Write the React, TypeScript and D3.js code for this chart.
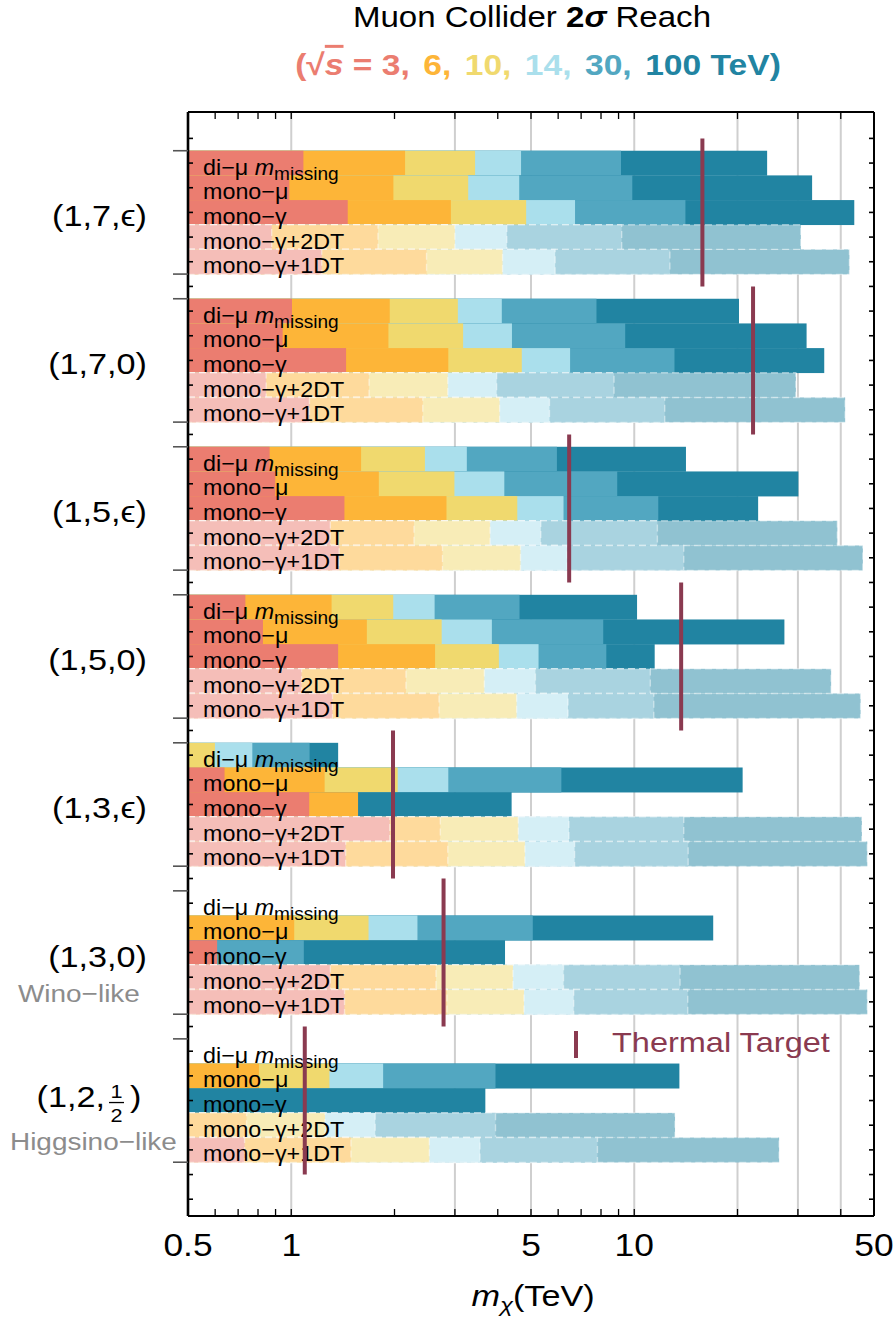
import React from 'react';
import * as d3 from 'd3';

// collider energies (TeV) and their colours
const energies = ['3', '6', '10', '14', '30', '100'];
const energyColors = ['#EB7D70', '#FDB538', '#F0D96E', '#AADFEC', '#52A7C1', '#2184A2'];

// search channels, in row order inside each model block
const channels = ['di-mu', 'mono-mu', 'mono-gamma', 'mono-gamma+2DT', 'mono-gamma+1DT'];
const isDT = [false, false, false, true, true];

// (n, Y, ...) multiplets
const models = ['(1,7,\u03F5)', '(1,7,0)', '(1,5,\u03F5)', '(1,5,0)', '(1,3,\u03F5)', '(1,3,0)', '(1,2,1/2)'];
const thermalTarget = [15.8, 22.2, 6.46, 13.7, 1.98, 2.78, 1.095];

// 2 sigma mass reach (TeV) per channel, one value per energy (null = no reach)
const reach17eps = [
  [1.085, 2.147, 3.435, 4.677, 9.15, 24.4],
  [0.987, 1.985, 3.28, 4.62, 9.87, 33.0],
  [1.461, 2.92, 4.84, 6.72, 14.1, 43.8],
  [0.877, 1.79, 3.0, 4.25, 9.19, 30.6],
  [1.227, 2.48, 4.13, 5.88, 12.7, 42.4],
];
const reach170 = [
  [1.005, 1.937, 3.06, 4.11, 7.76, 20.2],
  [0.944, 1.92, 3.17, 4.4, 9.41, 31.8],
  [1.445, 2.87, 4.7, 6.5, 13.1, 35.8],
  [0.845, 1.686, 2.86, 3.97, 8.73, 29.6],
  [1.13, 2.418, 4.05, 5.66, 12.27, 41.2],
];
const reach15eps = [
  [0.865, 1.598, 2.453, 3.25, 5.95, 14.15],
  [0.898, 1.8, 2.99, 4.18, 8.92, 30.1],
  [1.429, 2.835, 4.56, 6.22, 11.75, 22.97],
  [1.3, 2.28, 3.8, 5.34, 11.68, 39.1],
  [1.379, 2.76, 4.66, 6.37, 13.94, 46.4],
];
const reach150 = [
  [0.735, 1.311, 1.983, 2.618, 4.63, 10.19],
  [0.827, 1.661, 2.745, 3.845, 8.12, 27.4],
  [1.37, 2.626, 4.03, 5.26, 8.29, 11.47],
  [1.072, 2.16, 3.656, 5.15, 11.14, 37.5],
  [1.319, 2.697, 4.54, 6.41, 11.4, 45.7],
];
const reach13eps = [
  [null, null, 0.599, 0.77, 1.131, 1.37],
  [0.639, 1.251, 2.043, 2.87, 6.13, 20.7],
  [1.128, 1.566, null, null, null, 4.39],
  [1.937, 2.72, 4.59, 6.45, 13.94, 46.1],
  [1.441, 2.86, 4.8, 6.7, 14.36, 47.8],
];
const reach130 = [
  [null, null, null, null, null, null],
  [null, 1.02, 1.68, 2.333, 5.06, 16.99],
  [0.608, null, null, null, 1.088, 4.2],
  [1.3, 2.642, 4.43, 6.22, 13.6, 45.4],
  [1.43, 2.844, 4.77, 6.66, 14.32, 47.8],
];
const reach12half = [
  [null, null, null, null, null, null],
  [null, 0.805, 1.292, 1.853, 3.94, 13.54],
  [null, null, null, null, null, 3.68],
  [null, 0.741, 1.254, 1.757, 3.94, 13.15],
  [0.731, 1.493, 2.527, 3.55, 7.81, 26.45],
];
const reachByModel = [reach17eps, reach170, reach15eps, reach150, reach13eps, reach130, reach12half];

// x axis
const xTickLabels = [0.5, 1, 5, 10, 50];
const xMinorTicks = [0.6, 0.7, 0.8, 0.9, 2, 3, 4, 6, 7, 8, 9, 20, 30, 40];
const xGridLines = [1, 3, 5, 10, 20, 30, 40];

const W = 895;
const H = 1318;
const FONT = '"Liberation Sans", Arial, Helvetica, sans-serif';
const SX = 1.14; // the original text is a bit wide
const THERMAL = '#8A3A50';

const Txt = ({ x, y, anchor = 'start', sx = SX, children, ...rest }: any) => (
  <g transform={`translate(${x},${y}) scale(${sx},1)`}>
    <text x={0} y={0} textAnchor={anchor} fontFamily={FONT} {...rest}>
      {children}
    </text>
  </g>
);

const App: React.FC = () => {
  const left = 188, right = 874, top = 112, bottom = 1216;

  const x = d3.scaleLog().domain([0.5, 50]).range([left, right]);
  // one unit per row; each model block is 5 rows + 1 empty row
  const y = d3.scaleLinear().domain([-2.07, 42.68]).range([top, bottom]);
  const rowU = (g: number, r: number) => g * 6 + r;
  const light = (c: string) => d3.interpolateRgb('#ffffff', c)(0.5);

  const bars: React.ReactNode[] = [];
  reachByModel.forEach((rows, g) => {
    rows.forEach((vals, r) => {
      const u = rowU(g, r);
      const y0 = y(u - 0.5);
      const h = y(u + 0.5) - y0;
      // widest (highest energy) first so the lower energies sit on top
      for (let e = energies.length - 1; e >= 0; e--) {
        const v = vals[e];
        if (v == null) continue;
        const fill = isDT[r] ? light(energyColors[e]) : energyColors[e];
        bars.push(
          <rect key={`b${g}-${r}-${e}`} x={left} y={y0} width={x(v) - left} height={h + 0.3}
            fill={fill}
            stroke={isDT[r] ? '#ffffff' : 'none'} strokeOpacity={0.45}
            strokeWidth={1.4} strokeDasharray="7 4" />
        );
      }
    });
  });

  const intTicks = d3.range(-1, 43);
  const groupEdges = models.flatMap((_, g) => [rowU(g, 0) - 0.5, rowU(g, 4) + 0.5]);

  const rowLabel = (r: number) => {
    if (r === 0) {
      return (
        <>
          {'di\u2212\u03BC '}
          <tspan fontStyle="italic">m</tspan>
          <tspan fontSize={18} dy={5}>missing</tspan>
        </>
      );
    }
    if (r === 1) return 'mono\u2212\u03BC';
    if (r === 2) return 'mono\u2212\u03B3';
    if (r === 3) return 'mono\u2212\u03B3+2DT';
    return 'mono\u2212\u03B3+1DT';
  };

  const sub = [
    `(\u221A`, 's', ` = ${energies[0]},`,
  ];

  return (
    <svg width={W} height={H} viewBox={`0 0 ${W} ${H}`}
      style={{ position: 'absolute', left: 0, top: 0, background: '#fff' }}>
      {/* title */}
      <Txt x={532} y={27} anchor="middle" fontSize={29} fill="#000">
        {'Muon Collider '}
        <tspan fontWeight="bold">2</tspan>
        <tspan fontWeight="bold" fontStyle="italic">{'\u03C3'}</tspan>
        {' Reach'}
      </Txt>
      <Txt x={538} y={75} anchor="middle" fontSize={30} fontWeight="bold" sx={1.12}>
        <tspan fill={energyColors[0]}>{sub[0]}</tspan>
        <tspan fill={energyColors[0]} fontStyle="italic" textDecoration="overline">{sub[1]}</tspan>
        <tspan fill={energyColors[0]}>{sub[2]}</tspan>
        {energies.slice(1, 5).map((e, i) => (
          <tspan key={e} fill={energyColors[i + 1]} dx={12}>{`${e},`}</tspan>
        ))}
        <tspan fill={energyColors[5]} dx={12}>{`${energies[5]} TeV)`}</tspan>
      </Txt>

      {/* grid */}
      {xGridLines.map(v => (
        <line key={`gl${v}`} x1={x(v)} x2={x(v)} y1={top} y2={bottom} stroke="#cfcfcf" strokeWidth={2} />
      ))}

      {bars}

      {/* channel labels */}
      {models.map((_, g) => channels.map((c, r) => (
        <Txt key={`rl${g}-${r}`} x={203} y={y(rowU(g, r)) + 11.5} fontSize={22} fill="#000" sx={1.06}>
          {rowLabel(r)}
        </Txt>
      )))}

      {/* model labels */}
      {models.map((m, g) => {
        const cy = y(rowU(g, 2));
        if (m === '(1,2,1/2)') {
          return (
            <g key={`ml${g}`}>
              <Txt x={105} y={cy + 6} anchor="end" fontSize={29} sx={1.18}>{'(1,2,'}</Txt>
              <Txt x={116.5} y={cy - 3} anchor="middle" fontSize={19}>1</Txt>
              <line x1={109} x2={124} y1={cy + 2} y2={cy + 2} stroke="#000" strokeWidth={1.3} />
              <Txt x={116.5} y={cy + 21} anchor="middle" fontSize={19}>2</Txt>
              <Txt x={130} y={cy + 6} fontSize={29} sx={1.18}>)</Txt>
            </g>
          );
        }
        return <Txt key={`ml${g}`} x={147} y={cy + 14} anchor="end" fontSize={29} sx={1.18}>{m}</Txt>;
      })}
      <Txt x={18} y={y(rowU(5, 2)) + 49} fontSize={24.5} fill="#8c8c8c">{'Wino\u2212like'}</Txt>
      <Txt x={10} y={y(rowU(6, 2)) + 49} fontSize={24.5} fill="#8c8c8c">{'Higgsino\u2212like'}</Txt>

      {/* thermal targets */}
      {thermalTarget.map((t, g) => (
        <line key={`th${g}`} x1={x(t)} x2={x(t)} y1={y(rowU(g, 0) - 1)} y2={y(rowU(g, 4) + 1)}
          stroke={THERMAL} strokeWidth={4} />
      ))}
      <line x1={576} x2={576} y1={1031} y2={1058} stroke={THERMAL} strokeWidth={4} />
      <Txt x={612} y={1052} fontSize={28.5} fill={THERMAL}>Thermal Target</Txt>

      {/* frame */}
      <line x1={left} x2={left} y1={top} y2={bottom} stroke="#000" strokeWidth={2.6} />
      <line x1={right} x2={right} y1={top} y2={bottom} stroke="#000" strokeWidth={2} />
      <line x1={left} x2={right} y1={top} y2={top} stroke="#000" strokeWidth={2} />
      <line x1={left} x2={right} y1={bottom} y2={bottom} stroke="#000" strokeWidth={2} />

      {/* y ticks */}
      {intTicks.map(u => (
        <g key={`yt${u}`}>
          <line x1={left} x2={left + 5} y1={y(u)} y2={y(u)} stroke="#000" strokeWidth={1.6} />
          <line x1={right - 5} x2={right} y1={y(u)} y2={y(u)} stroke="#000" strokeWidth={1.6} />
        </g>
      ))}
      {groupEdges.map(u => (
        <line key={`ge${u}`} x1={left - 15} x2={left} y1={y(u)} y2={y(u)} stroke="#555" strokeWidth={1.6} />
      ))}

      {/* x ticks */}
      {[...xMinorTicks, ...xTickLabels].map(v => (
        <g key={`xt${v}`}>
          <line x1={x(v)} x2={x(v)} y1={bottom} y2={bottom - 7} stroke="#000" strokeWidth={1.3} />
          <line x1={x(v)} x2={x(v)} y1={top} y2={top + 7} stroke="#000" strokeWidth={1.3} />
        </g>
      ))}
      {xTickLabels.map(v => (
        <Txt key={`xl${v}`} x={x(v)} y={1256} anchor="middle" fontSize={31}>{String(v)}</Txt>
      ))}
      <Txt x={533} y={1306} anchor="middle" fontSize={30}>
        <tspan fontStyle="italic">m</tspan>
        <tspan fontStyle="italic" fontSize={21} dy={6}>{'\u03C7'}</tspan>
        <tspan dy={-6}>(TeV)</tspan>
      </Txt>
    </svg>
  );
};

export default App;
